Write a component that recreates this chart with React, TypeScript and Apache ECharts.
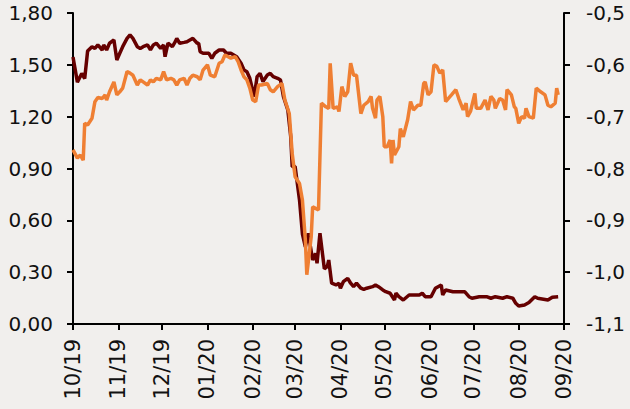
import React, { useEffect, useRef } from "react";
import * as echarts from "echarts";

// X positions are day offsets from 2019-10-01
const RED_DAYS = [0,3,6,8,10,13,15,17,20,21,23,25,28,30,32,34,37,39,41,44,46,48,51,53,55,57,60,62,63,65,68,70,71,73,76,78,80,82,85,86,87,89,93,95,97,100,103,105,108,110,112,115,117,119,121,124,126,128,130,133,135,137,140,142,144,147,149,150,152,155,157,159,161,164,166,167,169,172,174,175,177,180,182,183,185,188,190,192,194,197,199,201,205,207,209,212,214,217,220,221,223,226,230,233,237,239,241,245,248,252,253,255,260,264,268,271,273,278,283,286,289,294,297,301,303,305,309,312,316,318,321,325,328,332];
const RED_VALUES = [1.545,1.40,1.45,1.42,1.58,1.605,1.595,1.615,1.586,1.615,1.586,1.625,1.644,1.528,1.567,1.605,1.653,1.673,1.653,1.605,1.595,1.605,1.615,1.586,1.615,1.625,1.595,1.615,1.547,1.625,1.605,1.634,1.653,1.625,1.63,1.634,1.644,1.653,1.625,1.625,1.576,1.567,1.567,1.538,1.567,1.586,1.586,1.567,1.567,1.557,1.547,1.509,1.47,1.46,1.422,1.316,1.432,1.451,1.403,1.441,1.451,1.432,1.422,1.412,1.316,1.239,1.084,0.911,0.911,0.718,0.52,0.447,0.525,0.37,0.409,0.351,0.525,0.32,0.332,0.37,0.236,0.226,0.236,0.207,0.245,0.264,0.236,0.216,0.236,0.207,0.20,0.207,0.216,0.226,0.216,0.197,0.187,0.178,0.139,0.178,0.158,0.139,0.168,0.168,0.168,0.178,0.158,0.158,0.207,0.226,0.168,0.197,0.187,0.187,0.187,0.158,0.149,0.158,0.158,0.149,0.158,0.149,0.158,0.149,0.12,0.104,0.11,0.124,0.158,0.149,0.145,0.139,0.155,0.158];

const ORANGE_DAYS = [0,3,5,7,8,10,13,15,17,20,22,23,25,28,30,32,34,37,39,41,44,46,48,51,53,55,57,60,62,64,67,69,71,73,76,78,80,82,85,87,89,92,94,97,100,102,104,108,111,113,115,117,119,121,123,125,127,129,133,135,137,140,143,145,148,150,152,155,157,159,160,163,164,166,168,170,173,175,176,178,181,182,184,186,188,190,192,194,197,199,202,204,205,207,208,210,212,213,215,217,218,219,220,223,224,226,229,231,233,236,238,240,241,243,245,247,249,251,253,255,259,262,264,267,269,270,272,275,276,279,282,284,286,288,289,292,294,296,297,300,302,303,305,307,309,310,312,315,317,320,323,325,327,330,331,332];
const ORANGE_VALUES = [-0.764,-0.78,-0.774,-0.784,-0.713,-0.716,-0.703,-0.671,-0.663,-0.665,-0.658,-0.668,-0.652,-0.633,-0.658,-0.652,-0.645,-0.613,-0.616,-0.62,-0.639,-0.629,-0.633,-0.639,-0.629,-0.633,-0.626,-0.629,-0.613,-0.629,-0.626,-0.629,-0.639,-0.629,-0.626,-0.639,-0.626,-0.62,-0.623,-0.629,-0.61,-0.60,-0.62,-0.623,-0.597,-0.594,-0.581,-0.587,-0.584,-0.594,-0.61,-0.623,-0.629,-0.645,-0.668,-0.671,-0.639,-0.639,-0.636,-0.648,-0.652,-0.642,-0.636,-0.668,-0.694,-0.771,-0.816,-0.829,-0.861,-0.938,-1.005,-0.932,-0.874,-0.877,-0.88,-0.674,-0.681,-0.684,-0.597,-0.684,-0.681,-0.69,-0.642,-0.661,-0.652,-0.597,-0.62,-0.62,-0.694,-0.678,-0.671,-0.661,-0.684,-0.703,-0.668,-0.661,-0.70,-0.758,-0.758,-0.745,-0.79,-0.745,-0.774,-0.758,-0.723,-0.739,-0.706,-0.671,-0.687,-0.678,-0.678,-0.636,-0.633,-0.658,-0.652,-0.60,-0.603,-0.616,-0.61,-0.671,-0.658,-0.648,-0.665,-0.687,-0.674,-0.70,-0.69,-0.655,-0.684,-0.684,-0.668,-0.687,-0.661,-0.668,-0.684,-0.665,-0.668,-0.687,-0.648,-0.658,-0.681,-0.684,-0.713,-0.70,-0.703,-0.684,-0.70,-0.703,-0.645,-0.652,-0.658,-0.678,-0.681,-0.674,-0.645,-0.658];

const MONTH_LABELS = ["10/19","11/19","12/19","01/20","02/20","03/20","04/20","05/20","06/20","07/20","08/20","09/20"];
const LEFT_TICKS = { min: 0, max: 1.8, interval: 0.3 };
const RIGHT_TICKS = { min: -1.1, max: -0.5, interval: 0.1 };

const START = new Date(2019, 9, 1).getTime();
const END = new Date(2020, 8, 1).getTime();
const DAY = 86400000;

const FONT = "DejaVu Sans";

export default function App() {
  const ref = useRef<HTMLDivElement>(null);
  useEffect(() => {
    document.body.style.margin = "0";
    const chart = echarts.init(ref.current!, null, { renderer: "svg" });
    const red = RED_DAYS.map((d, i) => [START + d * DAY, RED_VALUES[i]]);
    const orange = ORANGE_DAYS.map((d, i) => [START + d * DAY, ORANGE_VALUES[i]]);
    chart.setOption({
      animation: false,
      backgroundColor: "#f1efed",
      grid: { left: 73, right: 66, top: 13, bottom: 85, containLabel: false, outerBoundsMode: "none" },
      xAxis: {
        type: "time",
        min: START,
        max: END,
        splitNumber: 11,
        minInterval: 28 * DAY,
        maxInterval: 31 * DAY,
        axisLine: { show: true, lineStyle: { color: "#000", width: 2 } },
        axisTick: { show: true, length: 6, lineStyle: { color: "#000", width: 2 } },
        splitLine: { show: false },
        axisLabel: {
          rotate: 90,
          margin: 15,
          fontFamily: FONT,
          fontSize: 21,
          color: "#111",
          hideOverlap: false,
          showMinLabel: true,
          showMaxLabel: true,
          formatter: (v: number) => {
            const d = new Date(v);
            const idx = (d.getFullYear() - 2019) * 12 + d.getMonth() - 9;
            return MONTH_LABELS[idx] ?? "";
          },
        },
      },
      yAxis: [
        {
          type: "value",
          ...LEFT_TICKS,
          axisLine: { show: true, lineStyle: { color: "#000", width: 2 } },
          axisTick: { show: true, length: 6, lineStyle: { color: "#000", width: 2 } },
          splitLine: { show: false },
          axisLabel: {
            margin: 20,
            fontFamily: FONT,
            fontSize: 20,
            color: "#111",
            formatter: (v: number) => v.toFixed(2).replace(".", ","),
          },
        },
        {
          type: "value",
          position: "right",
          ...RIGHT_TICKS,
          axisLine: { show: true, lineStyle: { color: "#000", width: 2 } },
          axisTick: { show: true, length: 6, lineStyle: { color: "#000", width: 2 } },
          splitLine: { show: false },
          axisLabel: {
            margin: 22,
            fontFamily: FONT,
            fontSize: 20,
            color: "#111",
            formatter: (v: number) => v.toFixed(1).replace(".", ","),
          },
        },
      ],
      series: [
        {
          type: "line",
          yAxisIndex: 0,
          data: red,
          showSymbol: false,
          lineStyle: { color: "#660000", width: 3.5 },
          itemStyle: { color: "#660000" },
        },
        {
          type: "line",
          yAxisIndex: 1,
          data: orange,
          showSymbol: false,
          lineStyle: { color: "#ef7f33", width: 3.5 },
          itemStyle: { color: "#ef7f33" },
        },
      ],
    });
    return () => chart.dispose();
  }, []);
  return <div ref={ref} style={{ width: 630, height: 409 }} />;
}
